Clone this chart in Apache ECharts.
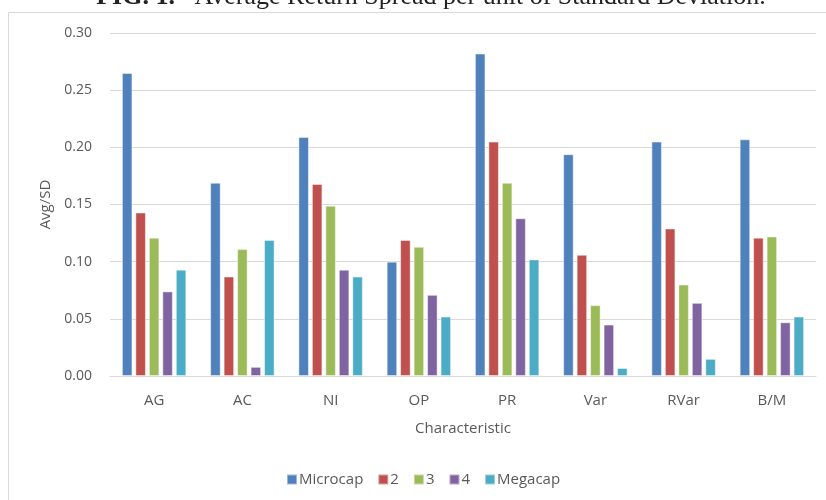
<!DOCTYPE html>
<html>
<head>
<meta charset="utf-8">
<script src="https://cdn.jsdelivr.net/npm/echarts@6/dist/echarts.min.js"></script>
<style>
  html, body { margin: 0; padding: 0; background: #fff; }
  #chart { width: 826px; height: 500px; }
</style>
</head>
<body>
<div id="chart"></div>
<script>
// Sorting characteristics on the x axis
const characteristics = ['AG', 'AC', 'NI', 'OP', 'PR', 'Var', 'RVar', 'B/M'];

// Size groups (legend order)
const sizeGroups = ['Microcap', '2', '3', '4', 'Megacap'];

// Average return spread divided by its standard deviation, per size group
const microcap = [0.265, 0.169, 0.209, 0.100, 0.282, 0.194, 0.205, 0.207];
const size2    = [0.143, 0.087, 0.168, 0.119, 0.205, 0.106, 0.129, 0.121];
const size3    = [0.121, 0.111, 0.149, 0.113, 0.169, 0.062, 0.080, 0.122];
const size4    = [0.074, 0.008, 0.093, 0.071, 0.138, 0.045, 0.064, 0.047];
const megacap  = [0.093, 0.119, 0.087, 0.052, 0.102, 0.007, 0.015, 0.052];

// Y axis ticks
const yTicks = { min: 0, max: 0.30, interval: 0.05 };

const seriesValues = [microcap, size2, size3, size4, megacap];
const palette = ['#4F81BD', '#C0504D', '#9BBB59', '#8064A2', '#4BACC6'];

const textColor = '#595959';
const fontFamily = '"Open Sans", sans-serif';

const chart = echarts.init(document.getElementById('chart'), null, { renderer: 'canvas' });

chart.setOption({
  animation: false,
  backgroundColor: '#ffffff',
  color: palette,
  textStyle: { fontFamily: fontFamily, color: textColor },
  graphic: [
    {
      type: 'rect',
      silent: true,
      shape: { x: 8.5, y: 12.5, width: 900, height: 600 },
      style: { fill: 'none', stroke: '#d9d9d9', lineWidth: 1 }
    },
    {
      type: 'text',
      silent: true,
      style: {
        x: 431,
        y: 10,
        text: '{b|FIG. 1.}   Average Return Spread per unit of Standard Deviation.',
        align: 'center',
        verticalAlign: 'bottom',
        fontFamily: '"Liberation Serif", "DejaVu Serif", serif',
        fontSize: 26,
        fill: '#222222',
        rich: {
          b: { fontWeight: 'bold', fontFamily: '"Liberation Serif", serif', fontSize: 26, fill: '#222222' }
        }
      }
    }
  ],
  grid: { left: 110, right: 10, top: 33, bottom: 124, containLabel: false },
  legend: {
    data: sizeGroups,
    bottom: 8,
    left: 281,
    itemWidth: 10,
    itemHeight: 10,
    itemGap: 14,
    icon: 'rect',
    textStyle: { fontSize: 15, color: textColor, fontFamily: fontFamily, padding: [0, 0, 0, -3] }
  },
  xAxis: {
    type: 'category',
    data: characteristics,
    name: 'Characteristic',
    nameLocation: 'middle',
    nameGap: 45,
    nameTextStyle: { fontSize: 15, color: textColor, fontFamily: fontFamily },
    axisLine: { show: true, lineStyle: { color: '#d9d9d9', width: 1 } },
    axisTick: { show: false },
    axisLabel: { fontSize: 15, color: textColor, margin: 17, fontFamily: fontFamily }
  },
  yAxis: {
    type: 'value',
    min: yTicks.min,
    max: yTicks.max,
    interval: yTicks.interval,
    name: 'Avg/SD',
    nameLocation: 'middle',
    nameGap: 56,
    nameTextStyle: { fontSize: 15, color: textColor, fontFamily: fontFamily },
    axisLine: { show: false },
    axisTick: { show: false },
    axisLabel: {
      fontSize: 14,
      color: textColor,
      margin: 18,
      fontFamily: fontFamily,
      formatter: v => v.toFixed(2)
    },
    splitLine: { lineStyle: { color: '#d9d9d9', width: 1 } }
  },
  series: sizeGroups.map((name, i) => ({
    name: name,
    type: 'bar',
    data: seriesValues[i],
    barGap: '28%',
    barCategoryGap: '27%',
    itemStyle: {
      color: palette[i],
      borderColor: 'rgba(255,255,255,0.45)',
      borderWidth: 1
    }
  }))
});
</script>
</body>
</html>
